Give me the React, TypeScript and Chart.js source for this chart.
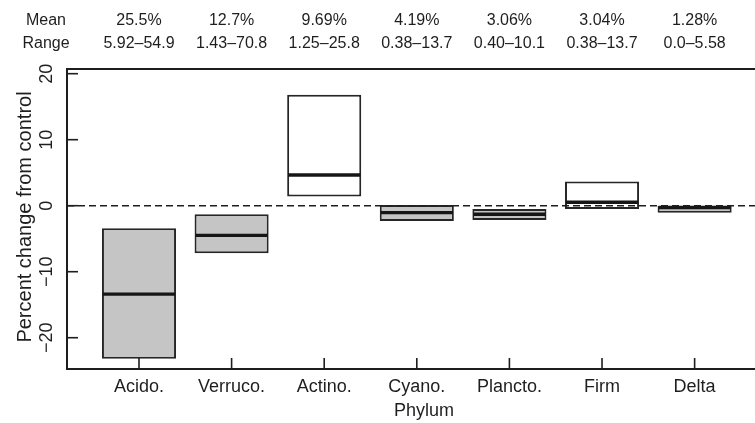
import React, { useEffect, useRef } from "react";
import { Chart, registerables } from "chart.js";

Chart.register(...registerables);

const categories = ["Acido.", "Verruco.", "Actino.", "Cyano.", "Plancto.", "Firm", "Delta"];
const boxLow = [-23.2, -7.2, 1.4, -2.3, -2.15, -0.5, -1.05];
const boxHigh = [-3.4, -1.3, 16.8, 0.1, -0.5, 3.65, -0.05];
const medians = [-13.4, -4.5, 4.65, -1.05, -1.3, 0.52, -0.28];
const meanLabels = ["25.5%", "12.7%", "9.69%", "4.19%", "3.06%", "3.04%", "1.28%"];
const rangeLabels = ["5.92–54.9", "1.43–70.8", "1.25–25.8", "0.38–13.7", "0.40–10.1", "0.38–13.7", "0.0–5.58"];
const yTickValues = [-20, -10, 0, 10, 20];
const headerRowNames = ["Mean", "Range"];
const xTitle = "Phylum";
const yTitle = "Percent change from control";

const FONT = "'Liberation Sans', Arial, Helvetica, sans-serif";
const INK = "#1e1e1e";

const decorPlugin = {
  id: "decor",
  afterDatasetsDraw(chart: any) {
    const { ctx, chartArea: a, scales } = chart;
    const x = scales.x;
    const y = scales.y;
    ctx.save();
    // medians
    const meta = chart.getDatasetMeta(0);
    meta.data.forEach((bar: any, i: number) => {
      const p = bar.getProps(["x", "width"], true);
      const py = y.getPixelForValue(medians[i]);
      ctx.strokeStyle = "#161616";
      ctx.lineWidth = 3.4;
      ctx.beginPath();
      ctx.moveTo(p.x - p.width / 2 + 1, py);
      ctx.lineTo(p.x + p.width / 2 - 1, py);
      ctx.stroke();
    });
    // zero dashed line
    const y0 = y.getPixelForValue(0);
    ctx.strokeStyle = INK;
    ctx.lineWidth = 1.6;
    ctx.setLineDash([7, 4]);
    ctx.beginPath();
    ctx.moveTo(a.left, y0);
    ctx.lineTo(a.right, y0);
    ctx.stroke();
    ctx.setLineDash([]);
    // frame: left, top, bottom
    ctx.strokeStyle = INK;
    ctx.lineWidth = 2;
    ctx.beginPath();
    ctx.moveTo(a.right + 2, a.top);
    ctx.lineTo(a.left, a.top);
    ctx.lineTo(a.left, a.bottom);
    ctx.lineTo(a.right + 2, a.bottom);
    ctx.stroke();
    // ticks (inward)
    ctx.lineWidth = 1.6;
    y.ticks.forEach((t: any) => {
      const py = y.getPixelForValue(t.value);
      ctx.beginPath();
      ctx.moveTo(a.left, py);
      ctx.lineTo(a.left + 11, py);
      ctx.stroke();
    });
    x.ticks.forEach((t: any) => {
      const px = x.getPixelForValue(t.value);
      ctx.beginPath();
      ctx.moveTo(px, a.bottom);
      ctx.lineTo(px, a.bottom - 11);
      ctx.stroke();
    });
    // texts
    ctx.fillStyle = INK;
    ctx.textAlign = "center";
    ctx.textBaseline = "middle";
    ctx.font = `16px ${FONT}`;
    ctx.fillText(headerRowNames[0], 46, 21);
    ctx.fillText(headerRowNames[1], 46, 44);
    categories.forEach((c, i) => {
      const px = x.getPixelForValue(i + 1);
      ctx.font = `16px ${FONT}`;
      ctx.fillText(meanLabels[i], px, 21);
      ctx.fillText(rangeLabels[i], px, 44);
      ctx.font = `18px ${FONT}`;
      ctx.fillText(c, px, 387);
    });
    ctx.font = `18px ${FONT}`;
    ctx.fillText(xTitle, 424, 411);
    // y tick labels rotated
    y.ticks.forEach((t: any) => {
      const py = y.getPixelForValue(t.value);
      ctx.save();
      ctx.translate(47, py);
      ctx.rotate(-Math.PI / 2);
      const v = t.value;
      const s = v < 0 ? "\u2212" + String(Math.abs(v)) : String(v);
      ctx.fillText(s, 0, 0);
      ctx.restore();
    });
    ctx.save();
    ctx.translate(25, (a.top + a.bottom) / 2 - 2);
    ctx.rotate(-Math.PI / 2);
    ctx.font = `20px ${FONT}`;
    ctx.fillText(yTitle, 0, 0);
    ctx.restore();
    ctx.restore();
  },
};

export default function App() {
  const ref = useRef<HTMLCanvasElement | null>(null);
  useEffect(() => {
    if (!ref.current) return;
    const chart = new Chart(ref.current, {
      type: "bar",
      data: {
        datasets: [
          {
            data: categories.map((c, i) => ({ x: i + 1, y: [boxLow[i], boxHigh[i]] })) as any,
            backgroundColor: medians.map((m) => (m > 0 ? "#ffffff" : "#c5c5c6")),
            borderColor: "#262626",
            borderWidth: 2,
            borderSkipped: false,
            barPercentage: 0.8,
            categoryPercentage: 1,
          },
        ],
      },
      options: {
        animation: false,
        responsive: false,
        events: [],
        layout: { padding: { left: 67, top: 69, right: 0, bottom: 54 } },
        plugins: { legend: { display: false }, tooltip: { enabled: false } },
        scales: {
          x: {
            type: "linear",
            display: false,
            offset: false,
            min: 0.2225,
            max: 7.652,
            afterBuildTicks: (s: any) => {
              s.ticks = categories.map((_, i) => ({ value: i + 1 }));
            },
          },
          y: {
            type: "linear",
            display: false,
            min: -24.74,
            max: 20.71,
            afterBuildTicks: (s: any) => {
              s.ticks = yTickValues.map((v) => ({ value: v }));
            },
          },
        },
      },
      plugins: [decorPlugin],
    });
    return () => chart.destroy();
  }, []);
  return (
    <div style={{ position: "absolute", left: 0, top: 0, width: 755, height: 423, background: "#fff" }}>
      <canvas ref={ref} width={755} height={423} style={{ width: 755, height: 423, display: "block" }} />
    </div>
  );
}
